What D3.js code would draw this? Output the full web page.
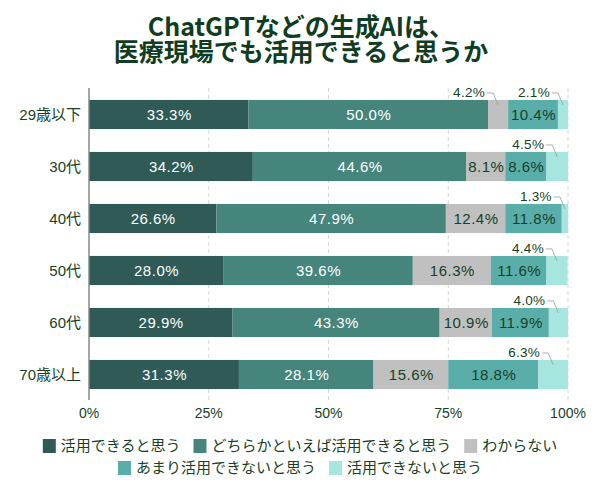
<!DOCTYPE html>
<html><head><meta charset="utf-8">
<script src="https://cdn.jsdelivr.net/npm/d3@7"></script>
<style>
body{margin:0;background:#fff;}
svg{display:block;font-family:"Liberation Sans","Noto Sans CJK JP",sans-serif;}
</style></head>
<body><svg id="c" width="600" height="496"></svg>
<script>
const categories = ["29歳以下","30代","40代","50代","60代","70歳以上"];
const seriesNames = ["活用できると思う","どちらかといえば活用できると思う","わからない","あまり活用できないと思う","活用できないと思う"];
const s1 = [33.3,34.2,26.6,28.0,29.9,31.3];
const s2 = [50.0,44.6,47.9,39.6,43.3,28.1];
const s3 = [4.2,8.1,12.4,16.3,10.9,15.6];
const s4 = [10.4,8.6,11.8,11.6,11.9,18.8];
const s5 = [2.1,4.5,1.3,4.4,4.0,6.3];
const tickValues = [0,25,50,75,100];
const titleLines = ["ChatGPTなどの生成AIは、","医療現場でも活用できると思うか"];

const colors = ["#2f5a55","#45857b","#c0c0c0","#5aaeaa","#a6e6de"];
const labelColors = ["#ffffff","#ffffff","#163f26","#163f26","#163f26"];
const series = [s1,s2,s3,s4,s5];

const svg = d3.select("#c");
const x = d3.scaleLinear().domain([0,100]).range([89,568]);
const y = d3.scaleBand().domain(categories).range([88.5,400.5]).paddingInner(0.44).paddingOuter(0.22);

// title (one text element, two lines)
const title = svg.append("text").attr("text-anchor","middle")
  .style("font-family","'Noto Sans CJK JP',sans-serif")
  .attr("font-size",25).attr("font-weight","bold").attr("fill","#0f3d22");
title.selectAll("tspan").data(titleLines).join("tspan")
  .attr("x",301).attr("y",(d,i)=>36+i*25).text(d=>d);

// grid
svg.append("g").selectAll("line").data(tickValues.filter(d=>d>0)).join("line")
  .attr("x1",d=>x(d)).attr("x2",d=>x(d)).attr("y1",88).attr("y2",400)
  .attr("stroke","#d6d6d6").attr("stroke-dasharray","4,3");

// bars
const g = svg.append("g");
categories.forEach((c,ci)=>{
  let cum = 0;
  series.forEach((s,si)=>{
    const v = s[ci];
    const x0 = x(cum), x1 = x(Math.min(100,cum+v));
    cum += v;
    g.append("rect").attr("x",x0).attr("y",y(c)).attr("width",Math.max(0,x1-x0)).attr("height",y.bandwidth())
      .attr("fill",colors[si]);
    const cx = (x0+x1)/2;
    const label = v.toFixed(1)+"%";
    if (v >= 7) {
      g.append("text").attr("x",cx+0.5).attr("y",y(c)+y.bandwidth()/2).attr("dy","0.36em")
        .attr("text-anchor","middle").attr("font-size",15).attr("letter-spacing","0.5px")
        .attr("fill",labelColors[si]).text(label);
    } else {
      const top = y(c);
      g.append("path").attr("d",`M${cx-11},${top-7}L${cx-5},${top-7}L${cx},${top+5}`)
        .attr("fill","none").attr("stroke","#9a9a9a").attr("stroke-width",0.8);
      g.append("text").attr("x",cx-13).attr("y",top-3)
        .attr("text-anchor","end").attr("font-size",13.5).attr("letter-spacing","0.3px")
        .attr("fill","#163f26").text(label);
    }
  });
});

// axis line
svg.append("line").attr("x1",89).attr("x2",89).attr("y1",88).attr("y2",400)
  .attr("stroke","#888").attr("stroke-width",1.5);

// y labels
svg.append("g").selectAll("text").data(categories).join("text")
  .attr("x",81).attr("y",d=>y(d)+y.bandwidth()/2).attr("dy","0.36em")
  .attr("text-anchor","end").attr("font-size",15).attr("fill","#163f26").text(d=>d);

// x tick labels
svg.append("g").selectAll("text").data(tickValues).join("text")
  .attr("x",d=>x(d)).attr("y",418).attr("text-anchor","middle")
  .attr("font-size",14).attr("fill","#163f26").text(d=>d+"%");

// legend
const rows = [[0,1,2],[3,4]];
rows.forEach((r,ri)=>{
  const lg = svg.append("g");
  let cx = 0;
  r.forEach(si=>{
    const item = lg.append("g").attr("transform",`translate(${cx},0)`);
    item.append("rect").attr("x",0).attr("y",-7).attr("width",13).attr("height",14).attr("fill",colors[si]);
    const t = item.append("text").attr("x",18).attr("y",0).attr("dy","0.36em")
      .attr("font-size",15).attr("fill","#163f26").text(seriesNames[si]);
    cx += 18 + t.node().getComputedTextLength() + 13;
  });
  const w = cx - 13;
  lg.attr("transform",`translate(${300 - w/2},${ri===0?446:468})`);
});
</script></body></html>
